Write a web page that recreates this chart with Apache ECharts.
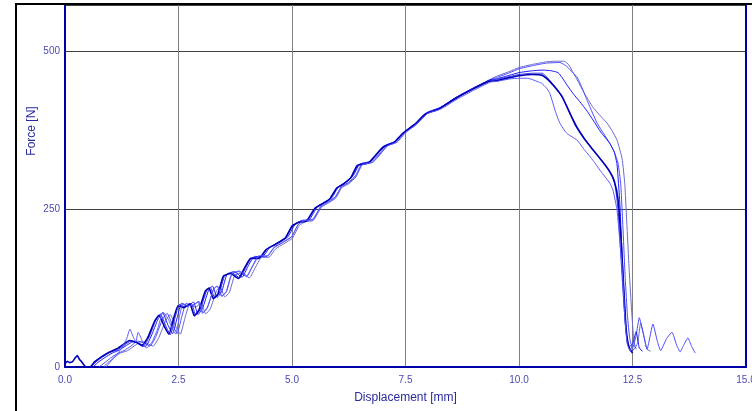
<!DOCTYPE html>
<html>
<head>
<meta charset="utf-8">
<script src="https://cdn.jsdelivr.net/npm/echarts@6/dist/echarts.min.js"></script>
<style>
html,body{margin:0;padding:0;background:#fff;overflow:hidden;width:752px;height:411px;}
#chart{position:absolute;left:0;top:0;width:752px;height:411px;}
#frame{position:absolute;left:15px;top:3px;right:0;bottom:0;border-top:2px solid #000;border-left:2px solid #000;pointer-events:none;}
</style>
</head>
<body>
<div id="chart"></div>
<div id="frame"></div>
<script>
// Axis settings
const xTicks = [0, 2.5, 5, 7.5, 10, 12.5, 15];
const yTicks = [0, 250, 500];
const xName = 'Displacement [mm]';
const yName = 'Force [N]';

// Curves: [displacement mm, force N]
const curveA = [[0.85,0],[0.95,7],[1.08,15],[1.22,22],[1.38,26],[1.52,33],[1.67,40],[1.82,37],[1.94,33],[2.07,47],[2.22,74],[2.32,83],[2.44,64],[2.54,52],[2.64,77],[2.74,98],[2.87,95],[3.0,101],[3.1,84],[3.2,92],[3.34,121],[3.42,126],[3.52,111],[3.62,118],[3.74,145],[3.9,149],[4.06,141],[4.19,157],[4.32,173],[4.5,174],[4.64,187],[4.82,195],[5.01,204],[5.16,224],[5.3,230],[5.47,232],[5.65,253],[5.81,260],[5.96,267],[6.1,284],[6.25,290],[6.41,301],[6.55,320],[6.78,324],[6.95,337],[7.1,350],[7.32,356],[7.5,371],[7.76,385],[7.98,401],[8.27,409],[8.64,426],[9.0,441],[9.36,455],[9.5,460],[9.8,468],[10.0,474],[10.3,479],[10.6,483],[10.8,484],[11.0,484],[11.1,478],[11.2,465],[11.3,452],[11.45,432],[11.63,411],[11.8,397],[11.94,386],[12.05,374],[12.16,359],[12.27,330],[12.33,290],[12.38,220],[12.43,150],[12.48,90],[12.52,50],[12.56,30],[12.62,40],[12.68,70],[12.75,50],[12.82,28],[12.9,25]];

const curveB = [[0.75,0],[0.86,6],[1.0,14],[1.15,21],[1.3,26],[1.45,33],[1.6,41],[1.75,38],[1.87,33],[2.0,48],[2.15,76],[2.25,85],[2.37,66],[2.47,53],[2.57,79],[2.67,101],[2.8,97],[2.93,103],[3.03,85],[3.13,93],[3.27,123],[3.35,128],[3.45,112],[3.55,119],[3.67,147],[3.83,151],[4.0,143],[4.13,159],[4.27,175],[4.45,175],[4.61,189],[4.8,197],[4.99,206],[5.14,226],[5.29,232],[5.46,234],[5.64,255],[5.8,262],[5.95,269],[6.09,286],[6.24,292],[6.4,303],[6.54,322],[6.77,326],[6.94,339],[7.1,352],[7.31,358],[7.5,373],[7.76,387],[7.98,403],[8.27,411],[8.64,428],[9.0,442],[9.37,455],[9.5,458],[9.8,466],[10.0,472],[10.3,477],[10.6,481],[10.9,482],[11.05,476],[11.18,466],[11.28,459],[11.4,440],[11.5,422],[11.62,402],[11.72,386],[11.86,370],[12.0,354],[12.1,340],[12.18,323],[12.24,290],[12.29,220],[12.34,140],[12.39,80],[12.44,45],[12.5,30],[12.58,50],[12.65,78],[12.73,55],[12.82,28],[12.95,68],[13.05,40],[13.12,26],[13.25,45],[13.37,55],[13.47,35],[13.55,24],[13.63,35],[13.72,46],[13.8,33],[13.88,22]];

const curveC = [[0.62,0],[0.72,7],[0.88,15],[1.04,22],[1.2,27],[1.35,34],[1.5,40],[1.65,37],[1.77,32],[1.9,49],[2.05,76],[2.15,86],[2.27,66],[2.37,53],[2.47,78],[2.57,101],[2.7,96],[2.83,103],[2.93,83],[3.03,93],[3.17,123],[3.25,128],[3.35,110],[3.45,119],[3.57,147],[3.73,151],[3.9,142],[4.03,159],[4.17,175],[4.35,175],[4.51,189],[4.7,197],[4.91,206],[5.06,225],[5.21,232],[5.38,233],[5.56,254],[5.73,261],[5.88,268],[6.02,285],[6.17,292],[6.34,302],[6.49,321],[6.72,325],[6.89,338],[7.06,351],[7.28,357],[7.47,372],[7.73,386],[7.96,402],[8.25,410],[8.62,427],[8.98,441],[9.35,454],[9.5,456],[9.8,462],[10.0,466],[10.3,469],[10.53,470],[10.7,469],[10.86,466],[10.95,458],[11.06,446],[11.2,432],[11.34,420],[11.5,405],[11.63,391],[11.8,372],[12.0,354],[12.1,340],[12.16,320],[12.22,260],[12.27,180],[12.32,105],[12.36,58],[12.42,32],[12.5,36],[12.58,56],[12.65,30],[12.72,25]];

const curveD = [[0.58,0],[0.68,8],[0.83,16],[0.99,23],[1.15,27],[1.3,34],[1.45,41],[1.6,38],[1.72,32],[1.85,47],[2.0,74],[2.1,84],[2.22,65],[2.32,51],[2.42,77],[2.52,99],[2.65,95],[2.78,101],[2.88,82],[2.98,91],[3.12,121],[3.2,126],[3.3,109],[3.4,117],[3.52,145],[3.68,149],[3.85,141],[3.98,157],[4.12,173],[4.3,173],[4.46,187],[4.65,195],[4.87,205],[5.02,224],[5.17,230],[5.34,232],[5.52,252],[5.7,260],[5.85,267],[6.0,284],[6.14,290],[6.31,300],[6.46,320],[6.7,324],[6.87,337],[7.04,350],[7.26,356],[7.46,371],[7.72,385],[7.95,401],[8.24,409],[8.61,426],[8.97,440],[9.34,453],[9.5,455],[9.8,460],[10.0,463],[10.3,465],[10.51,465],[10.6,460],[10.72,450],[10.86,438],[11.0,420],[11.15,398],[11.3,378],[11.5,356],[11.7,338],[11.9,320],[12.05,303],[12.12,286],[12.18,250],[12.24,180],[12.3,110],[12.35,60],[12.4,35],[12.47,24],[12.55,30]];

const curveE = [[0,5],[0.05,9],[0.1,7],[0.16,8],[0.22,14],[0.27,18],[0.32,12],[0.37,8],[0.42,3],[0.46,0],[0.55,0],[0.65,8],[0.8,16],[0.96,23],[1.12,28],[1.27,35],[1.42,42],[1.57,39],[1.69,34],[1.82,46],[1.97,72],[2.07,82],[2.19,64],[2.29,52],[2.39,76],[2.49,97],[2.62,94],[2.75,100],[2.85,81],[2.95,90],[3.09,120],[3.17,125],[3.27,108],[3.37,116],[3.49,144],[3.65,148],[3.82,140],[3.95,156],[4.09,172],[4.27,172],[4.43,186],[4.63,194],[4.85,204],[5.0,223],[5.15,229],[5.32,231],[5.5,251],[5.68,259],[5.83,266],[5.98,283],[6.12,289],[6.29,299],[6.44,319],[6.68,323],[6.85,336],[7.02,349],[7.24,355],[7.44,370],[7.7,384],[7.93,400],[8.22,408],[8.6,425],[8.96,439],[9.33,452],[9.5,453],[9.8,458],[10.0,461],[10.3,463],[10.5,462],[10.65,454],[10.8,442],[10.95,428],[11.1,405],[11.25,382],[11.45,360],[11.65,342],[11.85,324],[12.0,309],[12.1,294],[12.18,266],[12.25,200],[12.31,120],[12.36,60],[12.42,32],[12.5,22]];

const curveF = [[0.9,0],[1.0,8],[1.12,18],[1.25,30],[1.36,45],[1.43,60],[1.5,48],[1.56,40],[1.61,55],[1.7,42],[1.8,30],[1.92,40],[2.04,60],[2.16,87],[2.28,75],[2.38,58],[2.44,52],[2.52,80],[2.6,100],[2.72,97],[2.84,99],[2.95,104],[3.04,86],[3.14,95],[3.28,124],[3.36,128],[3.46,112],[3.56,120],[3.68,148],[3.84,152],[4.0,144],[4.13,160],[4.27,176],[4.45,176],[4.61,190],[4.8,198],[5.0,207],[5.14,226],[5.29,232],[5.46,233],[5.64,254],[5.8,261],[5.95,268],[6.09,285],[6.24,291],[6.4,301],[6.54,320],[6.77,324],[6.94,337],[7.1,350],[7.31,356],[7.5,371],[7.76,385],[7.98,401],[8.27,408],[8.64,424],[9.0,438],[9.37,451],[9.5,452],[9.8,456],[10.0,457],[10.2,457],[10.4,452],[10.5,449],[10.6,442],[10.68,433],[10.8,405],[10.9,386],[11.05,370],[11.28,359],[11.45,343],[11.63,327],[11.8,310],[12.0,291],[12.07,280],[12.16,248],[12.22,200],[12.27,158],[12.33,79],[12.38,38],[12.45,25],[12.52,40],[12.58,28]];

const curves = [curveA, curveB, curveC, curveD, curveE, curveF];
const curveColors = ['#6a6acc', '#4c4cff', '#1a1aff', '#3030e8', '#0000b8', '#5a5aff'];
const curveWidths = [1, 1, 1, 1, 1.6, 1];

const chart = echarts.init(document.getElementById('chart'), null, {renderer: 'canvas', width: 752, height: 411});
const axisBlue = '#0000a8';
const labelBlue = '#4a4ab8';

chart.setOption({
  animation: false,
  backgroundColor: '#ffffff',
  grid: {left: 65, right: 6, top: 5, bottom: 44, containLabel: false, outerBoundsMode: 'none'},
  xAxis: {
    type: 'value', min: xTicks[0], max: xTicks[xTicks.length - 1], interval: 2.5,
    name: xName, nameLocation: 'middle', nameGap: 25,
    nameTextStyle: {color: '#2a2aa0', fontSize: 12, fontFamily: 'Arial, Liberation Sans'},
    axisLine: {show: true, onZero: false, lineStyle: {color: axisBlue, width: 2}},
    axisTick: {show: false},
    axisLabel: {color: labelBlue, fontSize: 10, fontFamily: 'Arial, Liberation Sans', margin: 8,
      formatter: v => v.toFixed(1)},
    splitLine: {show: true, lineStyle: {color: '#808080', width: 1}}
  },
  yAxis: [{
    type: 'value', min: 0, max: 573, interval: 250,
    axisLine: {show: true, onZero: false, lineStyle: {color: axisBlue, width: 2}},
    axisTick: {show: false},
    axisLabel: {color: labelBlue, fontSize: 10, fontFamily: 'Arial, Liberation Sans', margin: 5,
      showMaxLabel: false, formatter: v => (yTicks.indexOf(v) >= 0 ? String(v) : '')},
    splitLine: {show: true, lineStyle: {color: '#404040', width: 1}}
  }, {
    type: 'value', min: 0, max: 573, interval: 250, position: 'right',
    axisLine: {show: true, onZero: false, lineStyle: {color: axisBlue, width: 2}},
    axisTick: {show: false}, axisLabel: {show: false}, splitLine: {show: false}
  }],
  graphic: [{
    type: 'text', x: 32, y: 131, rotation: Math.PI / 2,
    style: {text: yName, fill: '#2a2aa0', fontSize: 12, fontFamily: 'Arial, Liberation Sans',
      align: 'center', verticalAlign: 'middle'}
  }],
  series: curves.map((c, i) => ({
    type: 'line', data: c, showSymbol: false, smooth: 0.15, clip: true,
    lineStyle: {color: curveColors[i], width: curveWidths[i]},
    emphasis: {disabled: true}
  }))
});
</script>
</body>
</html>
